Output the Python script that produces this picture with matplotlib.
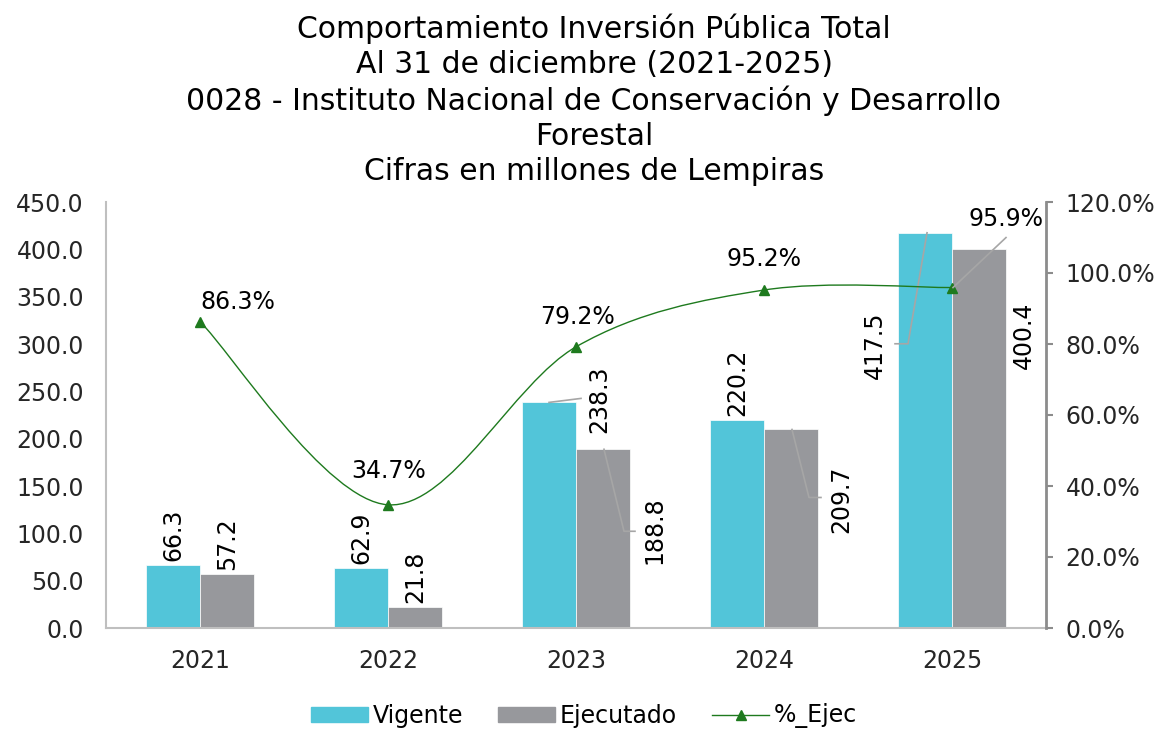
import numpy as np
import matplotlib
matplotlib.use("Agg")
import matplotlib.pyplot as plt
from matplotlib.path import Path
from matplotlib.patches import PathPatch, Patch
from matplotlib.lines import Line2D
from matplotlib.ticker import FuncFormatter, MultipleLocator

plt.rcParams['font.family'] = ['DejaVu Sans']

years = ['2021', '2022', '2023', '2024', '2025']
vigente = [66.3, 62.9, 238.3, 220.2, 417.5]
ejecutado = [57.2, 21.8, 188.8, 209.7, 400.4]
pct_ejec = [86.3, 34.7, 79.2, 95.2, 95.9]

title_lines = [
    'Comportamiento Inversión Pública Total',
    'Al 31 de diciembre (2021-2025)',
    '0028 - Instituto Nacional de Conservación y Desarrollo',
    'Forestal',
    'Cifras en millones de Lempiras',
]

c_vig = '#52C5D9'
c_eje = '#97989C'
c_line = '#1E7A1E'
c_lead = '#A6A6A6'

fig = plt.figure(figsize=(11.58, 7.34), dpi=100)
W, H = 1158, 734
ax = fig.add_axes([106 / W, 1 - 628 / H, 940 / W, 426 / H])
ax2 = ax.twinx()

x = np.arange(len(years))
bw = 0.287
ax.bar(x - bw / 2, vigente, bw, color=c_vig, edgecolor='white', linewidth=0.5, label='Vigente')
ax.bar(x + bw / 2, ejecutado, bw, color=c_eje, edgecolor='white', linewidth=0.5, label='Ejecutado')

ax.set_xlim(-0.5, 4.5)
ax.set_ylim(0, 450)
ax.yaxis.set_major_locator(MultipleLocator(50))
ax.yaxis.set_major_formatter(FuncFormatter(lambda v, p: f'{v:.1f}'))
ax.set_xticks(x)
ax.set_xticklabels(years)
ax.tick_params(axis='y', length=0, pad=16, labelsize=17, colors='#262626')
ax.tick_params(axis='x', length=0, pad=15, labelsize=17, colors='#262626')

ax2.set_ylim(0, 120)
ax2.yaxis.set_major_locator(MultipleLocator(20))
ax2.yaxis.set_major_formatter(FuncFormatter(lambda v, p: f'{v:.1f}%'))
ax2.tick_params(axis='y', length=5, width=1.5, color='#8C8C8C', pad=9, labelsize=17, labelcolor='#262626')

for a in (ax, ax2):
    a.spines['top'].set_visible(False)
ax.spines['right'].set_visible(False)
ax2.spines['left'].set_visible(False)
ax2.spines['bottom'].set_visible(False)
ax.spines['left'].set_color('#BFBFBF')
ax.spines['left'].set_linewidth(1.5)
ax.spines['bottom'].set_color('#BFBFBF')
ax.spines['bottom'].set_linewidth(1.5)
ax2.spines['right'].set_color('#8C8C8C')
ax2.spines['right'].set_linewidth(2)

# smoothed line (Catmull-Rom style bezier through the data points)
pts = np.column_stack([x, pct_ejec]).astype(float)
ext = np.vstack([pts[0], pts, pts[-1]])
verts = [pts[0]]
codes = [Path.MOVETO]
for i in range(len(pts) - 1):
    p0, p1, p2, p3 = ext[i], ext[i + 1], ext[i + 2], ext[i + 3]
    verts += [p1 + (p2 - p0) / 6, p2 - (p3 - p1) / 6, p2]
    codes += [Path.CURVE4] * 3
ax2.add_patch(PathPatch(Path(verts, codes), facecolor='none', edgecolor=c_line, lw=1))
ax2.plot(x, pct_ejec, linestyle='none', marker='^', markersize=7, color=c_line)


def to_data(a, xd, yd, offs):
    base = a.transData.transform((xd, yd))
    return a.transData.inverted().transform(np.array([base + np.array(o) for o in offs]))


def label(a, xd, yd, text, off, rot=0, lead=None):
    if lead:
        ln = to_data(a, xd, yd, lead)
        a.plot(ln[:, 0], ln[:, 1], color=c_lead, lw=1.2, zorder=3)
    a.annotate(text, (xd, yd), xytext=off, textcoords='offset pixels', rotation=rot,
               ha='center', va='center', fontsize=17, color='black', zorder=4)


# bar labels: (offset of text centre, leader) in pixels, None = above bar
vig_pos = [None, None, ((50, 3), [(0, 0), (32, 4)]), None,
           ((-50, -112), [(2, 0), (-17, -111), (-30, -111)])]
eje_pos = [None, None, ((51, -81), [(1, 0), (21, -82), (32, -82)]),
           ((50, -70), [(1, 0), (18, -68), (30, -68)]), ((45, -86), None)]

for vals, xs, poss in ((vigente, x - bw / 2, vig_pos), (ejecutado, x + bw / 2, eje_pos)):
    for xi, v, pos in zip(xs, vals, poss):
        if pos is None:
            ax.annotate(f'{v:.1f}', (xi, v), xytext=(0, 4), textcoords='offset pixels',
                        rotation=90, ha='center', va='bottom', fontsize=17)
        else:
            label(ax, xi, v, f'{v:.1f}', pos[0], rot=90, lead=pos[1])

pct_pos = [((38, 20), None), ((1, 34), None), ((1, 30), None), ((0, 31), None),
           ((54, 69), [(1, 0), (54, 50)])]
for xi, v, pos in zip(x, pct_ejec, pct_pos):
    label(ax2, xi, v, f'{v:.1f}%', pos[0], lead=pos[1])

fig.text(594 / W, 1 - 13 / H, '\n'.join(title_lines), ha='center', va='top',
         fontsize=21.5, linespacing=1.27, color='black')

handles = [Patch(color=c_vig), Patch(color=c_eje),
           Line2D([0], [0], color=c_line, lw=1, marker='^', markersize=7)]
fig.legend(handles, ['Vigente', 'Ejecutado', '%_Ejec'], loc='center', ncol=3,
           bbox_to_anchor=(584 / W, 1 - 716 / H), frameon=False, fontsize=17,
           handlelength=2.4, handleheight=0.6, handletextpad=0.2, columnspacing=1.5)

fig.savefig('out.png', dpi=100)
